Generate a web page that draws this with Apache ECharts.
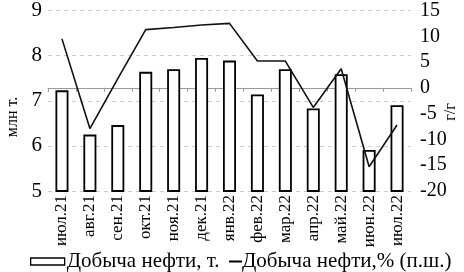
<!DOCTYPE html>
<html><head><meta charset="utf-8">
<script src="https://cdn.jsdelivr.net/npm/echarts@6/dist/echarts.min.js"></script>
<style>html,body{margin:0;padding:0;background:#fff}#c{width:464px;height:272px}</style>
</head><body><div id="c"></div>
<script>
var categories = ['июл.21','авг.21','сен.21','окт.21','ноя.21','дек.21','янв.22','фев.22','мар.22','апр.22','май.22','июн.22','июл.22'];
var production = [7.23, 6.25, 6.46, 7.64, 7.70, 7.95, 7.89, 7.14, 7.70, 6.83, 7.59, 5.91, 6.90];
var growth = [9.5, -7.9, 1.8, 11.3, 11.7, 12.2, 12.5, 5.2, 5.2, -3.8, 3.7, -15.3, -7.2];
var barName = 'Добыча нефти, т.';
var lineName = 'Добыча нефти,% (п.ш.)';
var leftName = 'млн т.';
var rightName = 'г/г';

var font = 'Liberation Serif';
var chart = echarts.init(document.getElementById('c'));
chart.setOption({
  animation: false,
  textStyle: {fontFamily: font},
  grid: {left: 48, right: 53, top: 10, bottom: 81, containLabel: false},
  legend: [
    {data: [{name: barName, icon: 'rect'}], left: 25, top: 246, itemWidth: 34, itemHeight: 7, itemGap: 0,
     itemStyle: {borderWidth: 1.3, borderColor: '#000', color: '#fff'},
     textStyle: {fontFamily: font, fontSize: 21, color: '#000', padding: [0,0,0,-3]}},
    {data: [{name: lineName, icon: 'rect'}], left: 224, top: 246, itemWidth: 13, itemHeight: 2, itemGap: 0,
     itemStyle: {color: '#000', borderWidth: 0},
     textStyle: {fontFamily: font, fontSize: 21, color: '#000', padding: [0,0,0,-5]}}
  ],
  xAxis: {
    type: 'category', data: categories,
    axisLine: {lineStyle: {color: '#999', width: 1}},
    axisTick: {show: true, lineStyle: {color: '#999'}, length: 4},
    axisLabel: {rotate: 90, fontFamily: font, fontSize: 17, color: '#000', margin: 4, interval: 0}
  },
  yAxis: [
    {type: 'value', min: 5, max: 9, interval: 1,
     axisLine: {show: false}, axisTick: {show: false},
     axisLabel: {fontFamily: font, fontSize: 21, color: '#000', margin: 6},
     splitLine: {lineStyle: {type: [4, 4], color: '#ccc'}}},
    {type: 'value', min: -20, max: 15, interval: 5,
     axisLine: {show: false}, axisTick: {show: false},
     axisLabel: {fontFamily: font, fontSize: 20, color: '#000', margin: 9},
     splitLine: {show: false}}
  ],
  graphic: [
    {type: 'text', x: 13, y: 117, rotation: Math.PI/2,
     style: {text: leftName, font: '16px "Liberation Serif"', fill: '#000', align: 'center', verticalAlign: 'middle'}},
    {type: 'text', x: 451, y: 112, rotation: Math.PI/2,
     style: {text: rightName, font: '16px "Liberation Serif"', fill: '#000', align: 'center', verticalAlign: 'middle'}}
  ],
  series: [
    {name: barName, type: 'bar', data: production, barWidth: 13, yAxisIndex: 0,
     itemStyle: {color: '#fff', borderColor: '#000', borderWidth: 1.8}},
    {name: lineName, type: 'line', data: growth, yAxisIndex: 1, symbol: 'none',
     lineStyle: {color: '#111', width: 1.6}, itemStyle: {color: '#000'}}
  ]
});
</script></body></html>
